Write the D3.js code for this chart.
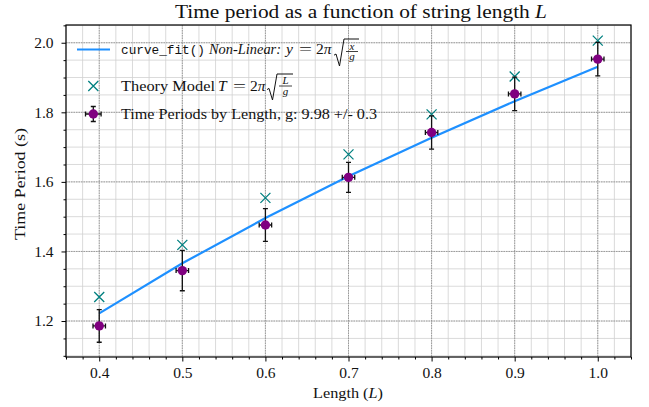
<!DOCTYPE html>
<html><head><meta charset="utf-8">
<script src="https://cdn.jsdelivr.net/npm/d3@7"></script>
<style>
body{margin:0;background:#fff}
svg{display:block}
text{font-family:"Liberation Serif","DejaVu Serif",serif;fill:#111}
</style></head>
<body>
<svg id="c" width="649" height="407"></svg>
<script>
const lengths = [0.4, 0.5, 0.6, 0.7, 0.8, 0.9, 1.0];
const periods = [1.186, 1.345, 1.476, 1.613, 1.742, 1.853, 1.953];
const periodErr = [0.047, 0.058, 0.047, 0.043, 0.048, 0.048, 0.048];
const lengthErr = [0.0075, 0.0075, 0.0075, 0.0075, 0.0075, 0.0075, 0.0075];
const theory = [1.269, 1.419, 1.554, 1.679, 1.794, 1.903, 2.006];
const fitValues = [1.222, 1.366, 1.496, 1.616, 1.727, 1.832, 1.931];
const xTicks = [0.4, 0.5, 0.6, 0.7, 0.8, 0.9, 1.0];
const yTicks = [1.2, 1.4, 1.6, 1.8, 2.0];

const svg = d3.select("#c");
const L = 66, R = 631, T = 25, B = 357;
const x = d3.scaleLinear().domain([0.36, 1.04]).range([L, R]);
const y = d3.scaleLinear().domain([1.0966, 2.051]).range([B, T]);

const xMinor = d3.range(0.36, 1.0401, 0.02).map(v => +v.toFixed(2));
const yMinor = d3.range(1.10, 2.051, 0.05).map(v => +v.toFixed(2));

// grid
const g = svg.append("g");
g.selectAll(".vmin").data(xMinor).join("line")
  .attr("x1", d => x(d)).attr("x2", d => x(d)).attr("y1", T).attr("y2", B)
  .attr("stroke", "#d0d0d0").attr("stroke-width", 0.8);
g.selectAll(".hmin").data(yMinor).join("line")
  .attr("y1", d => y(d)).attr("y2", d => y(d)).attr("x1", L).attr("x2", R)
  .attr("stroke", "#d0d0d0").attr("stroke-width", 0.8);
g.selectAll(".vmaj").data(xTicks).join("line")
  .attr("x1", d => x(d)).attr("x2", d => x(d)).attr("y1", T).attr("y2", B)
  .attr("stroke", "#8a8a8a").attr("stroke-width", 0.8).attr("stroke-dasharray", "1.5,1");
g.selectAll(".hmaj").data(yTicks).join("line")
  .attr("y1", d => y(d)).attr("y2", d => y(d)).attr("x1", L).attr("x2", R)
  .attr("stroke", "#8a8a8a").attr("stroke-width", 0.8).attr("stroke-dasharray", "1.5,1");

// axes
const xAxis = d3.axisBottom(x).tickValues(xTicks).tickFormat(d3.format(".1f")).tickSize(4.5).tickPadding(5);
const xAxisMinor = d3.axisBottom(x).tickValues(xMinor.filter(v => !xTicks.some(t => Math.abs(t - v) < 1e-6))).tickFormat("").tickSize(2.5);
const yAxis = d3.axisLeft(y).tickValues(yTicks).tickFormat(d3.format(".1f")).tickSize(4.5).tickPadding(8);
const yAxisMinor = d3.axisLeft(y).tickValues(yMinor.filter(v => !yTicks.some(t => Math.abs(t - v) < 1e-6))).tickFormat("").tickSize(2.5);

function styleAxis(sel) {
  sel.select(".domain").remove();
  sel.attr("font-family", null).attr("font-size", null);
  sel.selectAll("line").attr("stroke", "#000").attr("stroke-width", 1);
  sel.selectAll("text").style("font-family", "'Liberation Serif',serif").style("font-size", "15.5px").attr("fill", "#222");
}
svg.append("g").attr("transform", `translate(0,${B})`).call(xAxis).call(styleAxis);
svg.append("g").attr("transform", `translate(0,${B})`).call(xAxisMinor).call(styleAxis);
svg.append("g").attr("transform", `translate(${L},0)`).call(yAxis).call(styleAxis);
svg.append("g").attr("transform", `translate(${L},0)`).call(yAxisMinor).call(styleAxis);

// fit line
const pts = lengths.map((l, i) => [l, fitValues[i]]);
svg.append("path").datum(pts)
  .attr("d", d3.line().x(d => x(d[0])).y(d => y(d[1])))
  .attr("fill", "none").attr("stroke", "#1e90ff").attr("stroke-width", 2.2);

// theory markers (x)
const ms = 5;
const th = svg.append("g");
lengths.forEach((l, i) => {
  const cx = x(l), cy = y(theory[i]);
  th.append("path").attr("d", `M${cx-ms},${cy-ms}L${cx+ms},${cy+ms}M${cx-ms},${cy+ms}L${cx+ms},${cy-ms}`)
    .attr("stroke", "#008080").attr("stroke-width", 1.3);
});

// error bars
function errMark(parent, cx, cy, dxp, dyUp, dyDn) {
  const cap = 2.5;
  parent.append("path").attr("d",
    `M${cx},${cy-dyUp}L${cx},${cy+dyDn}M${cx-cap},${cy-dyUp}L${cx+cap},${cy-dyUp}M${cx-cap},${cy+dyDn}L${cx+cap},${cy+dyDn}` +
    `M${cx-dxp},${cy}L${cx+dxp},${cy}M${cx-dxp},${cy-cap}L${cx-dxp},${cy+cap}M${cx+dxp},${cy-cap}L${cx+dxp},${cy+cap}`)
    .attr("stroke", "#111").attr("stroke-width", 1.3).attr("fill", "none");
  parent.append("circle").attr("cx", cx).attr("cy", cy).attr("r", 4.7).attr("fill", "#800080");
}
const eb = svg.append("g");
lengths.forEach((l, i) => {
  const cx = x(l), cy = y(periods[i]);
  errMark(eb, cx, cy, x(l + lengthErr[i]) - cx, cy - y(periods[i] + periodErr[i]), y(periods[i] - periodErr[i]) - cy);
});

// spines
svg.append("rect").attr("x", L).attr("y", T).attr("width", R - L).attr("height", B - T)
  .attr("fill", "none").attr("stroke", "#000").attr("stroke-width", 1.2);

// title & labels
const title = svg.append("text").attr("x", 175).attr("y", 18).style("font-size", "18.5px");
title.append("tspan").text("Time period as a function of string length ");
title.append("tspan").style("font-style", "italic").text("L");
title.attr("textLength", 372).attr("lengthAdjust", "spacingAndGlyphs");

const xl = svg.append("text").attr("x", 313).attr("y", 398).style("font-size", "15.5px");
xl.append("tspan").text("Length (");
xl.append("tspan").style("font-style", "italic").text("L");
xl.append("tspan").text(")");
xl.attr("textLength", 70).attr("lengthAdjust", "spacingAndGlyphs");

svg.append("text").attr("transform", "translate(25,184) rotate(-90)").attr("text-anchor", "middle")
  .style("font-size", "15.5px").attr("textLength", 112).attr("lengthAdjust", "spacingAndGlyphs").text("Time Period (s)");

// legend
const FS = "15.5px";
const lg = svg.append("g");
lg.append("line").attr("x1", 77).attr("x2", 110).attr("y1", 49.5).attr("y2", 49.5)
  .attr("stroke", "#1e90ff").attr("stroke-width", 2.2);
lg.append("text").attr("x", 121).attr("y", 54).style("font-family", "'Liberation Mono',monospace").style("font-size", "13.5px")
  .attr("textLength", 84).attr("lengthAdjust", "spacingAndGlyphs").text("curve_fit()");
lg.append("text").attr("x", 209).attr("y", 54).style("font-size", FS).style("font-style", "italic")
  .attr("textLength", 72).attr("lengthAdjust", "spacingAndGlyphs").text("Non-Linear:");
lg.append("text").attr("x", 286).attr("y", 54).style("font-size", FS).style("font-style", "italic").text("y");
lg.append("text").attr("x", 299).attr("y", 54).style("font-size", FS).attr("textLength", 13).attr("lengthAdjust", "spacingAndGlyphs").text("=");
lg.append("text").attr("x", 316).attr("y", 54).style("font-size", FS).html("2<tspan font-style='italic'>π</tspan>");
function radical(x0, yTop, yBot, xEnd, num, den) {
  const ym = yBot - (yBot - yTop) * 0.4;
  lg.append("path").attr("d", `M${x0},${ym}L${x0+2},${ym-1.2}L${x0+5.5},${yBot}L${x0+10},${yTop}L${xEnd},${yTop}`)
    .attr("fill", "none").attr("stroke", "#111").attr("stroke-width", 1);
  const fx = (x0 + 11 + xEnd) / 2, fy = (yTop + yBot) / 2 - 1;
  lg.append("line").attr("x1", x0 + 12).attr("x2", xEnd - 1).attr("y1", fy).attr("y2", fy).attr("stroke", "#111").attr("stroke-width", 0.8);
  lg.append("text").attr("x", fx).attr("y", fy - 2).attr("text-anchor", "middle").style("font-size", "11px").style("font-style", "italic").text(num);
  lg.append("text").attr("x", fx).attr("y", fy + 8.5).attr("text-anchor", "middle").style("font-size", "11px").style("font-style", "italic").text(den);
}
radical(334, 39, 66, 359, "x", "g");

// theory legend
{
  const cx = 93.3, cy = 86;
  lg.append("path").attr("d", `M${cx-ms},${cy-ms}L${cx+ms},${cy+ms}M${cx-ms},${cy+ms}L${cx+ms},${cy-ms}`)
    .attr("stroke", "#008080").attr("stroke-width", 1.3);
}
lg.append("text").attr("x", 121).attr("y", 90.5).style("font-size", FS).attr("textLength", 94).attr("lengthAdjust", "spacingAndGlyphs").text("Theory Model");
lg.append("text").attr("x", 218).attr("y", 90.5).style("font-size", FS).style("font-style", "italic").text("T");
lg.append("text").attr("x", 233).attr("y", 90.5).style("font-size", FS).attr("textLength", 13).attr("lengthAdjust", "spacingAndGlyphs").text("=");
lg.append("text").attr("x", 250).attr("y", 90.5).style("font-size", FS).html("2<tspan font-style='italic'>π</tspan>");
radical(267, 74, 100, 293, "L", "g");

// errorbar legend
errMark(lg, 93.3, 114, 7.8, 7.5, 7.5);
lg.append("text").attr("x", 121).attr("y", 118.5).style("font-size", FS).attr("textLength", 256).attr("lengthAdjust", "spacingAndGlyphs")
  .text("Time Periods by Length, g: 9.98 +/- 0.3");
</script>
</body></html>
